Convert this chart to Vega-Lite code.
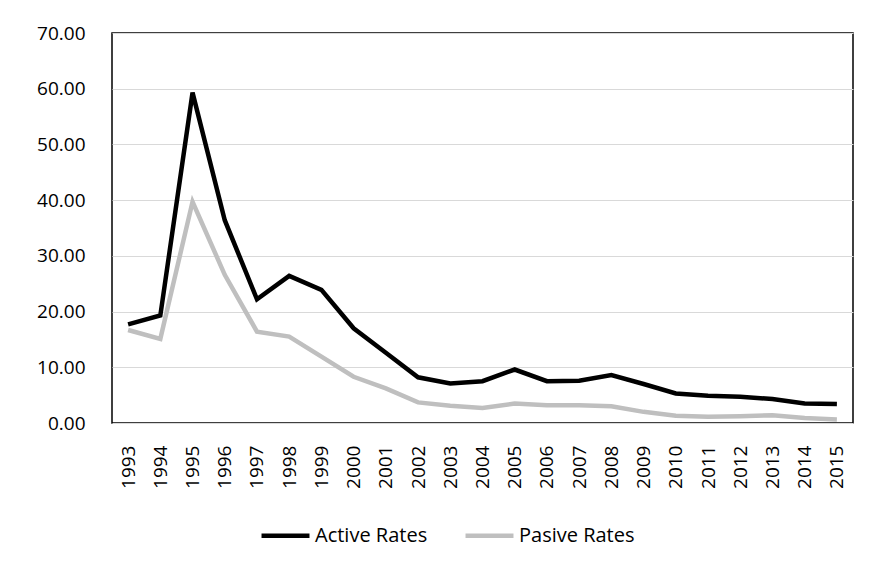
{
  "$schema": "https://vega.github.io/schema/vega-lite/v6.json",
  "autosize": "none",
  "width": 741,
  "height": 390,
  "padding": {"left": 112, "top": 33, "right": 23, "bottom": 149},
  "background": "white",
  "config": {
    "view": {"stroke": "#000000", "strokeWidth": 1.5},
    "font": "Open Sans"
  },
  "data": {
    "values": [
      {"year": "1993", "series": "Active Rates", "value": 17.7},
      {"year": "1994", "series": "Active Rates", "value": 19.3},
      {"year": "1995", "series": "Active Rates", "value": 59.3},
      {"year": "1996", "series": "Active Rates", "value": 36.4},
      {"year": "1997", "series": "Active Rates", "value": 22.2},
      {"year": "1998", "series": "Active Rates", "value": 26.4},
      {"year": "1999", "series": "Active Rates", "value": 23.9},
      {"year": "2000", "series": "Active Rates", "value": 17.0},
      {"year": "2001", "series": "Active Rates", "value": 12.6},
      {"year": "2002", "series": "Active Rates", "value": 8.2},
      {"year": "2003", "series": "Active Rates", "value": 7.1},
      {"year": "2004", "series": "Active Rates", "value": 7.5},
      {"year": "2005", "series": "Active Rates", "value": 9.6},
      {"year": "2006", "series": "Active Rates", "value": 7.5},
      {"year": "2007", "series": "Active Rates", "value": 7.6},
      {"year": "2008", "series": "Active Rates", "value": 8.6},
      {"year": "2009", "series": "Active Rates", "value": 7.0},
      {"year": "2010", "series": "Active Rates", "value": 5.3},
      {"year": "2011", "series": "Active Rates", "value": 4.9},
      {"year": "2012", "series": "Active Rates", "value": 4.7},
      {"year": "2013", "series": "Active Rates", "value": 4.3},
      {"year": "2014", "series": "Active Rates", "value": 3.5},
      {"year": "2015", "series": "Active Rates", "value": 3.4},
      {"year": "1993", "series": "Pasive Rates", "value": 16.7},
      {"year": "1994", "series": "Pasive Rates", "value": 15.1},
      {"year": "1995", "series": "Pasive Rates", "value": 39.7},
      {"year": "1996", "series": "Pasive Rates", "value": 26.6},
      {"year": "1997", "series": "Pasive Rates", "value": 16.4},
      {"year": "1998", "series": "Pasive Rates", "value": 15.5},
      {"year": "1999", "series": "Pasive Rates", "value": 11.9},
      {"year": "2000", "series": "Pasive Rates", "value": 8.3},
      {"year": "2001", "series": "Pasive Rates", "value": 6.2},
      {"year": "2002", "series": "Pasive Rates", "value": 3.7},
      {"year": "2003", "series": "Pasive Rates", "value": 3.1},
      {"year": "2004", "series": "Pasive Rates", "value": 2.7},
      {"year": "2005", "series": "Pasive Rates", "value": 3.5},
      {"year": "2006", "series": "Pasive Rates", "value": 3.2},
      {"year": "2007", "series": "Pasive Rates", "value": 3.2},
      {"year": "2008", "series": "Pasive Rates", "value": 3.0},
      {"year": "2009", "series": "Pasive Rates", "value": 2.0},
      {"year": "2010", "series": "Pasive Rates", "value": 1.3},
      {"year": "2011", "series": "Pasive Rates", "value": 1.1},
      {"year": "2012", "series": "Pasive Rates", "value": 1.2},
      {"year": "2013", "series": "Pasive Rates", "value": 1.4},
      {"year": "2014", "series": "Pasive Rates", "value": 0.9},
      {"year": "2015", "series": "Pasive Rates", "value": 0.65}
    ]
  },
  "mark": {"type": "line", "strokeWidth": 4.5, "strokeJoin": "miter", "strokeCap": "butt"},
  "encoding": {
    "x": {
      "field": "year",
      "type": "ordinal",
      "scale": {"type": "point", "padding": 0.5},
      "axis": {
        "title": null,
        "labelAngle": -90,
        "labelFontSize": 19,
        "labelColor": "#000000",
        "labelPadding": 22,
        "ticks": false,
        "domain": false,
        "grid": false
      }
    },
    "y": {
      "field": "value",
      "type": "quantitative",
      "scale": {"domain": [0, 70], "nice": false},
      "axis": {
        "title": null,
        "values": [0, 10, 20, 30, 40, 50, 60, 70],
        "format": ".2f",
        "labelFontSize": 19,
        "labelColor": "#000000",
        "labelPadding": 27,
        "ticks": false,
        "domain": false,
        "gridColor": "#d9d9d9",
        "gridWidth": 1.2
      }
    },
    "color": {
      "field": "series",
      "type": "nominal",
      "scale": {"domain": ["Active Rates", "Pasive Rates"], "range": ["#000000", "#bfbfbf"]},
      "legend": {
        "title": null,
        "orient": "none",
        "direction": "horizontal",
        "legendX": 147,
        "legendY": 476,
        "symbolType": "stroke",
        "symbolSize": 2300,
        "symbolStrokeWidth": 4.5,
        "labelFontSize": 20,
        "labelColor": "#000000",
        "labelOffset": 3,
        "columnPadding": 28
      }
    }
  }
}
